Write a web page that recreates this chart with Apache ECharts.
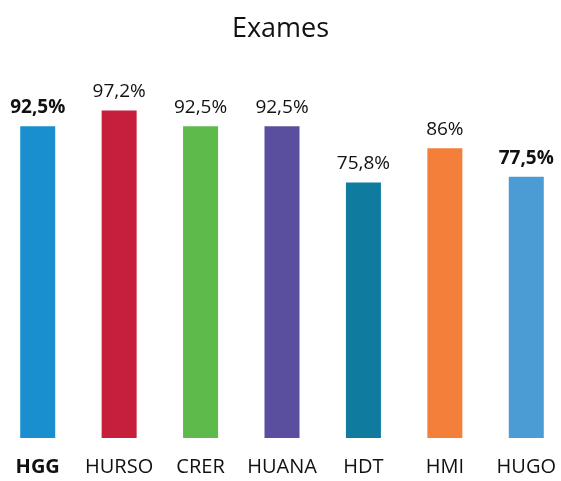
<!DOCTYPE html>
<html><head><meta charset="utf-8">
<script src="https://cdn.jsdelivr.net/npm/echarts@6/dist/echarts.min.js"></script>
<style>html,body{margin:0;padding:0;background:#fff}#c{width:561px;height:481px}</style>
</head><body><div id="c"></div>
<script>
const categories = ['HGG','HURSO','CRER','HUANA','HDT','HMI','HUGO'];
const values = [92.5, 97.2, 92.5, 92.5, 75.8, 86, 77.5];
const labelTexts = ['92,5%','97,2%','92,5%','92,5%','75,8%','86%','77,5%'];
const colors = ['#1a8fcf','#c61f3c','#5dba4b','#5a4f9f','#0f7b9f','#f47f3a','#4b9bd4'];
const boldLabels = ['HGG','HUGO'];
const boldCats = ['HGG'];

const chart = echarts.init(document.getElementById('c'));
const FONT = '"Open Sans", "Noto Sans", sans-serif';
chart.setOption({
  animation: false,
  backgroundColor: '#fff',
  title: { text: 'Exames', left: 'center', top: 11,
    textStyle: { fontFamily: FONT, fontSize: 27, fontWeight: 'normal', color: '#111' } },
  grid: { left: -3, right: -6, top: 101, bottom: 43, outerBoundsMode: 'none', containLabel: false },
  xAxis: { type: 'category', data: categories,
    axisLine: { show: false }, axisTick: { show: false },
    axisLabel: { interval: 0, margin: 19, fontFamily: FONT, fontSize: 20, color: '#111',
      formatter: v => boldCats.includes(v) ? '{b|' + v + '}' : v,
      rich: { b: { fontFamily: FONT, fontSize: 20, fontWeight: 'bold', color: '#111' } } } },
  yAxis: { type: 'value', min: 0, max: 100, show: false, splitLine: { show: false } },
  series: [{
    type: 'bar', barWidth: 35,
    data: values.map((v, i) => ({
      value: v,
      itemStyle: { color: colors[i] },
      label: { show: true, position: 'top', distance: 9,
        formatter: labelTexts[i],
        fontFamily: FONT, fontSize: 19, color: '#111',
        fontWeight: boldLabels.includes(categories[i]) ? 'bold' : 'normal' }
    }))
  }]
});
</script></body></html>
